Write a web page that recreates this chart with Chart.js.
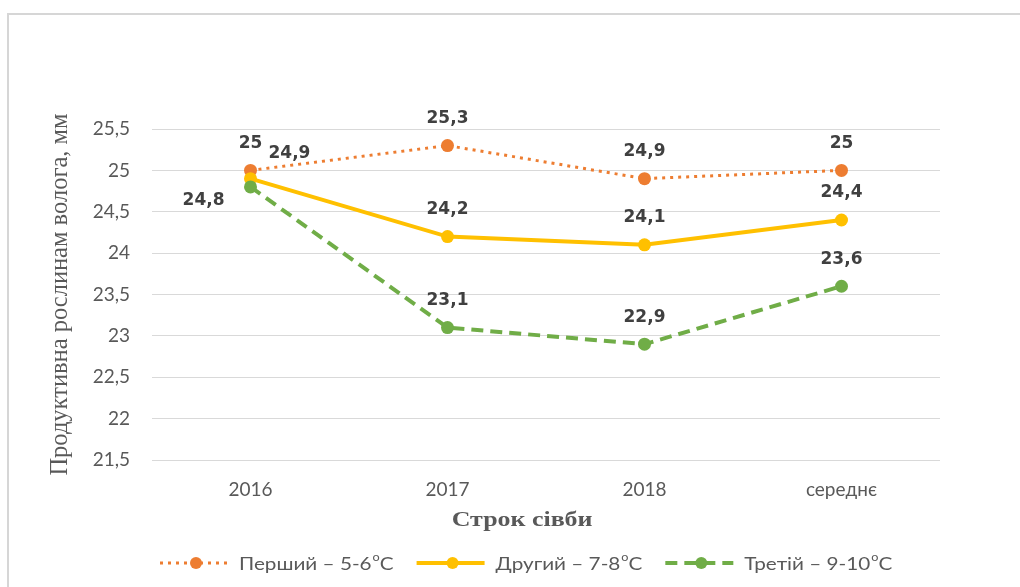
<!DOCTYPE html>
<html>
<head>
<meta charset="utf-8">
<script src="https://cdn.jsdelivr.net/npm/chart.js@4.4.1/dist/chart.umd.min.js"></script>
<style>
  html, body { margin: 0; padding: 0; background: #ffffff; }
  #wrap { width: 1020px; height: 587px; position: relative; }
</style>
</head>
<body>
<div id="wrap"><canvas id="c" width="1020" height="587"></canvas></div>
<script>
const categories = ['2016', '2017', '2018', 'середнє'];
const seriesNames = ['Перший – 5-6⁰С', 'Другий – 7-8⁰С', 'Третій – 9-10⁰С'];
const firstValues = [25, 25.3, 24.9, 25];
const secondValues = [24.9, 24.2, 24.1, 24.4];
const thirdValues = [24.8, 23.1, 22.9, 23.6];
const yTitle = 'Продуктивна рослинам волога, мм';
const xTitle = 'Строк сівби';

const colors = ['#ED7D31', '#FFC000', '#70AD47'];
const dashes = [[3, 5], [], [12, 7]];
const widths = [3, 4, 4];
// label placement per series/point: 'above', 'right', 'left'
const labelPos = [
  ['above', 'above', 'above', 'above'],
  ['right', 'above', 'above', 'above'],
  ['left', 'above', 'above', 'above']
];

const fmt = v => String(v).replace('.', ',');

function stretchedText(ctx, text, x, y, sx) {
  ctx.save();
  ctx.translate(x, y);
  ctx.scale(sx, 1);
  ctx.fillText(text, 0, 0);
  ctx.restore();
  return ctx.measureText(text).width * sx;
}

const decor = {
  id: 'decor',
  beforeDraw(chart) {
    const ctx = chart.ctx;
    ctx.save();
    ctx.fillStyle = '#ffffff';
    ctx.fillRect(0, 0, chart.width, chart.height);
    ctx.strokeStyle = '#d6d6d6';
    ctx.lineWidth = 2;
    ctx.beginPath();
    ctx.moveTo(8, chart.height);
    ctx.lineTo(8, 14);
    ctx.lineTo(chart.width, 14);
    ctx.stroke();
    ctx.restore();
  },
  afterDatasetsDraw(chart) {
    const ctx = chart.ctx;
    ctx.save();
    ctx.font = 'bold 17px "DejaVu Sans"';
    ctx.fillStyle = '#404040';
    ctx.textBaseline = 'middle';
    chart.data.datasets.forEach((ds, di) => {
      const meta = chart.getDatasetMeta(di);
      meta.data.forEach((pt, i) => {
        const t = fmt(ds.data[i]);
        const p = labelPos[di][i];
        let x = pt.x, y = pt.y;
        if (p === 'above') { ctx.textAlign = 'center'; y -= 27; }
        else if (p === 'right') { ctx.textAlign = 'left'; x += 18; y -= 25; }
        else { ctx.textAlign = 'right'; x -= 26; y += 14; }
        ctx.fillText(t, x, y);
      });
    });
    ctx.restore();
  },
  afterDraw(chart) {
    const ctx = chart.ctx;
    ctx.save();
    // x axis title
    ctx.font = 'bold 22px "Liberation Serif"';
    ctx.fillStyle = '#595959';
    ctx.textAlign = 'center';
    ctx.textBaseline = 'middle';
    stretchedText(ctx, xTitle, 522, 520, 1.18);
    // legend
    const ly = 563;
    let x = 160;
    const sx = 1.15;
    ctx.textAlign = 'left';
    chart.data.datasets.forEach((ds, di) => {
      ctx.strokeStyle = colors[di];
      ctx.lineWidth = widths[di];
      ctx.setLineDash(dashes[di]);
      ctx.beginPath();
      ctx.moveTo(x, ly);
      ctx.lineTo(x + 68, ly);
      ctx.stroke();
      ctx.setLineDash([]);
      ctx.fillStyle = colors[di];
      ctx.beginPath();
      ctx.arc(x + 36, ly, 6, 0, Math.PI * 2);
      ctx.fill();
      x += 79;
      const parts = ds.label.split('⁰');
      ctx.fillStyle = '#595959';
      ctx.font = '18px Lato';
      x += stretchedText(ctx, parts[0], x, ly + 1, sx);
      ctx.font = '11px Lato';
      x += stretchedText(ctx, 'o', x + 1, ly - 6, sx) + 1;
      ctx.font = '18px Lato';
      x += stretchedText(ctx, parts[1], x, ly + 1, sx);
      x += 23;
    });
    ctx.restore();
  }
};

const valueSets = [firstValues, secondValues, thirdValues];
const datasets = valueSets.map((vals, i) => ({
  label: seriesNames[i],
  data: vals,
  borderColor: colors[i],
  backgroundColor: colors[i],
  borderWidth: widths[i],
  borderDash: dashes[i],
  pointRadius: 6.5,
  pointHoverRadius: 6.5,
  pointBorderWidth: 0,
  pointBackgroundColor: colors[i],
  tension: 0,
  order: 3 - i,
  clip: false
}));

new Chart(document.getElementById('c'), {
  type: 'line',
  data: { labels: categories, datasets },
  plugins: [decor],
  options: {
    responsive: false,
    animation: false,
    layout: { padding: { left: 46, right: 80, top: 129, bottom: 0 } },
    plugins: { legend: { display: false }, tooltip: { enabled: false } },
    scales: {
      x: {
        type: 'category',
        offset: true,
        grid: { display: false, drawTicks: false },
        border: { display: false },
        ticks: { color: '#595959', font: { family: 'Lato', size: 19 }, padding: 18 },
        afterFit(s) { s.height = 127; }
      },
      y: {
        min: 21.5, max: 25.5,
        grid: { color: '#d9d9d9', lineWidth: 1, drawTicks: false },
        border: { display: false },
        ticks: { stepSize: 0.5, color: '#595959', font: { family: 'Lato', size: 19 }, padding: 22, callback: v => fmt(v) },
        title: { display: true, text: yTitle, color: '#595959', font: { family: 'Liberation Serif', size: 24.5 }, padding: 0 },
        afterFit(s) { s.width = 106; }
      }
    }
  }
});
</script>
</body>
</html>
